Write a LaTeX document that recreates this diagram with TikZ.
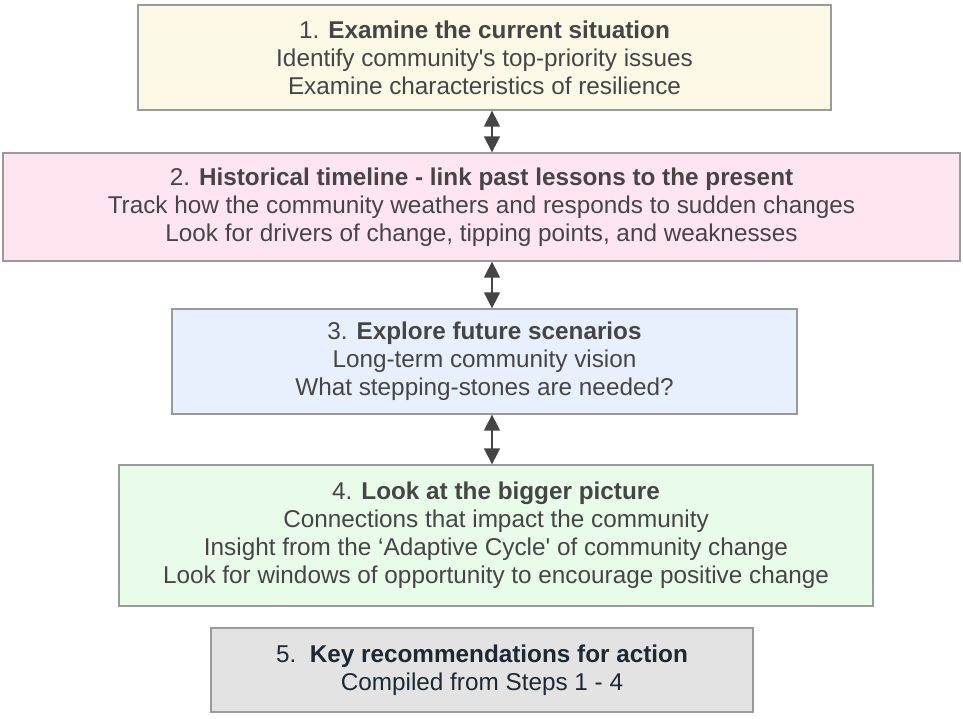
\documentclass[tikz,border=0pt]{standalone}
\usepackage{fontspec}
\setmainfont{Liberation Sans}
\usetikzlibrary{arrows.meta}

\definecolor{boxline}{HTML}{9A9A9A}
\definecolor{inkgray}{HTML}{454545}
\definecolor{inknavy}{HTML}{1C2833}
\definecolor{fillone}{HTML}{FDF9E7}
\definecolor{filltwo}{HTML}{FFE5F2}
\definecolor{fillthree}{HTML}{E9F0FD}
\definecolor{fillfour}{HTML}{E9FCEA}
\definecolor{fillfive}{HTML}{E3E3E3}

\tikzset{
  stepbox/.style={draw=boxline, line width=1.3pt, align=center, text=inkgray,
    font=\fontsize{24.3}{28}\selectfont, inner sep=0pt},
  link/.style={{Triangle[length=16pt,width=16pt]}-{Triangle[length=16pt,width=16pt]},
    draw=inkgray, line width=1.5pt}
}

\begin{document}
\begin{tikzpicture}[x=1pt,y=-1pt]
	\useasboundingbox (0,0) rectangle (963,719);

	\node[stepbox, fill=fillone, minimum width=693pt, minimum height=105pt] (s1) at (484.5,57.5)
		{1. \textbf{Examine the current situation}\\
		 Identify community\textquotesingle s top-priority issues\\
		 Examine characteristics of resilience};

	\node[stepbox, fill=filltwo, minimum width=957pt, minimum height=108pt] (s2) at (481.5,207)
		{2. \textbf{Historical timeline - link past lessons to the present}\\
		 Track how the community weathers and responds to sudden changes\\
		 Look for drivers of change, tipping points, and weaknesses};

	\node[stepbox, fill=fillthree, minimum width=625pt, minimum height=105pt] (s3) at (484.5,361.5)
		{3. \textbf{Explore future scenarios}\\
		 Long-term community vision\\
		 What stepping-stones are needed?};

	\node[stepbox, fill=fillfour, minimum width=754pt, minimum height=141pt] (s4) at (496,535.5)
		{4. \textbf{Look at the bigger picture}\\
		 Connections that impact the community\\
		 Insight from the `Adaptive Cycle\textquotesingle\ of community change\\
		 Look for windows of opportunity to encourage positive change};

	\node[stepbox, fill=fillfive, text=inknavy, minimum width=542pt, minimum height=84pt] (s5) at (482,670)
		{5.\ \ \textbf{Key recommendations for action}\\
		 Compiled from Steps 1 - 4};

	% arrows between the steps
	\coordinate (axis) at (492,0);
	\draw[link] (s1.south -| axis) -- (s2.north -| axis);
	\draw[link] (s2.south -| axis) -- (s3.north -| axis);
	\draw[link] (s3.south -| axis) -- (s4.north -| axis);
\end{tikzpicture}
\end{document}
